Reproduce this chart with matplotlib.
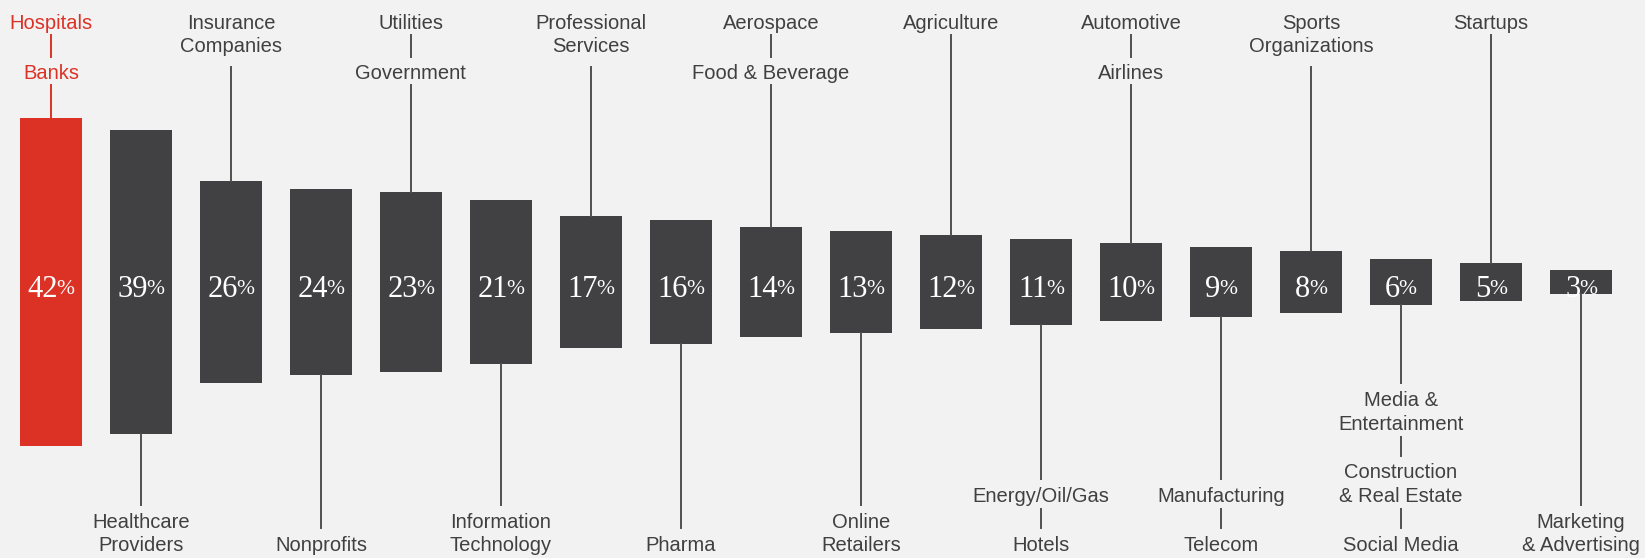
import matplotlib
matplotlib.use("Agg")
import matplotlib.pyplot as plt
from matplotlib.transforms import offset_copy

# ---- data ----
values = [42, 39, 26, 24, 23, 21, 17, 16, 14, 13, 12, 11, 10, 9, 8, 6, 5, 3]
highlight = [0]
top_labels = {
    0: ["Hospitals", "Banks"],
    2: ["Insurance\nCompanies"],
    4: ["Utilities", "Government"],
    6: ["Professional\nServices"],
    8: ["Aerospace", "Food & Beverage"],
    10: ["Agriculture"],
    12: ["Automotive", "Airlines"],
    14: ["Sports\nOrganizations"],
    16: ["Startups"],
}
bottom_labels = {
    1: ["Healthcare\nProviders"],
    3: ["Nonprofits"],
    5: ["Information\nTechnology"],
    7: ["Pharma"],
    9: ["Online\nRetailers"],
    11: ["Energy/Oil/Gas", "Hotels"],
    13: ["Manufacturing", "Telecom"],
    15: ["Media &\nEntertainment", "Construction\n& Real Estate", "Social Media"],
    17: ["Marketing\n& Advertising"],
}

# ---- style / layout ----
W, H = 1645, 558
BG = "#F2F2F2"
DARK = "#414143"
RED = "#DC3226"
TXT = "#404040"
LINE = "#505050"
Y0 = 282.0        # pixel row of bar centres
PPU = 7.79        # pixels per percent
X0 = 50.9         # pixel centre of first bar
DX = 90.0         # pixel spacing
BW = 62.0 / DX    # bar width in data units
LS = 23.5         # line spacing px
GAP = 50.0        # block gap (centre to centre)
NUM_FS = 22
PCT_FS = 15.5

fig = plt.figure(figsize=(W / 100, H / 100), dpi=100, facecolor=BG)
ax = fig.add_axes([0, 0, 1, 1])
ax.set_facecolor(BG)
ax.set_xlim(-X0 / DX, (W - X0) / DX)
ax.set_ylim(-(H - Y0) / PPU, Y0 / PPU)
ax.axis("off")


def py2d(py):
    return (Y0 - py) / PPU


xs = list(range(len(values)))
colors = [RED if i in highlight else DARK for i in xs]
ax.bar(xs, values, bottom=[-v / 2 for v in values], width=BW, color=colors, zorder=2)

renderer = fig.canvas.get_renderer()
for i, v in enumerate(values):
    num = str(v)
    t1 = ax.text(0, 0, num, fontsize=NUM_FS, family="Liberation Serif", color="white")
    t2 = ax.text(0, 0, "%", fontsize=PCT_FS, family="Liberation Serif", color="white")
    w1 = t1.get_window_extent(renderer).width - 1.5
    w2 = t2.get_window_extent(renderer).width
    t1.remove(); t2.remove()
    total = w1 + w2
    base = py2d(Y0 + 15)
    tr1 = offset_copy(ax.transData, fig=fig, x=-total / 2 * 72 / 100, y=0, units="points")
    ax.text(i, base, num, fontsize=NUM_FS, family="Liberation Serif", color="white",
            ha="left", va="baseline", transform=tr1, zorder=3)
    tr2 = offset_copy(ax.transData, fig=fig, x=(-total / 2 + w1) * 72 / 100, y=3 * 72 / 100, units="points")
    ax.text(i, base, "%", fontsize=PCT_FS, family="Liberation Serif", color="white",
            ha="left", va="baseline", transform=tr2, zorder=3)


def draw_text(x, py, s, color):
    ax.text(x, py2d(py + 7.0), s, fontsize=14.5, family="Liberation Sans", color=color,
            ha="center", va="baseline", zorder=3)


# top stacks
for i, blocks in top_labels.items():
    c_txt = RED if i in highlight else TXT
    c_ln = RED if i in highlight else LINE
    y = 22.0
    prev_last = None
    prev_n = 1
    for b in blocks:
        lines = b.split("\n")
        if prev_last is not None:
            y = prev_last + GAP
            ax.plot([i, i], [py2d(prev_last + 13), py2d(y - 15)], color=c_ln, lw=1.4, zorder=4)
        for k, s in enumerate(lines):
            draw_text(i, y + k * LS, s, c_txt)
        prev_last = y + (len(lines) - 1) * LS
        prev_n = len(lines)
    start = prev_last + 13 + 8 * (prev_n - 1)
    ax.plot([i, i], [py2d(start), values[i] / 2], color=c_ln, lw=1.4, zorder=4)

# bottom stacks
for i, blocks in bottom_labels.items():
    c_txt = RED if i in highlight else TXT
    c_ln = RED if i in highlight else LINE
    pos = []
    last = 544.0
    for b in reversed(blocks):
        n = len(b.split("\n"))
        first = last - (n - 1) * LS
        pos.append((first, last))
        last = first - GAP + 1
    pos = pos[::-1]
    for (first, lastc), b in zip(pos, blocks):
        for k, s in enumerate(b.split("\n")):
            draw_text(i, first + k * LS, s, c_txt)
    ax.plot([i, i], [-values[i] / 2, py2d(pos[0][0] - 16)], color=c_ln, lw=1.4, zorder=4)
    for (f1, l1), (f2, l2) in zip(pos[:-1], pos[1:]):
        ax.plot([i, i], [py2d(l1 + 14), py2d(f2 - 16)], color=c_ln, lw=1.4, zorder=4)

fig.savefig("out.png", dpi=100, facecolor=BG)
